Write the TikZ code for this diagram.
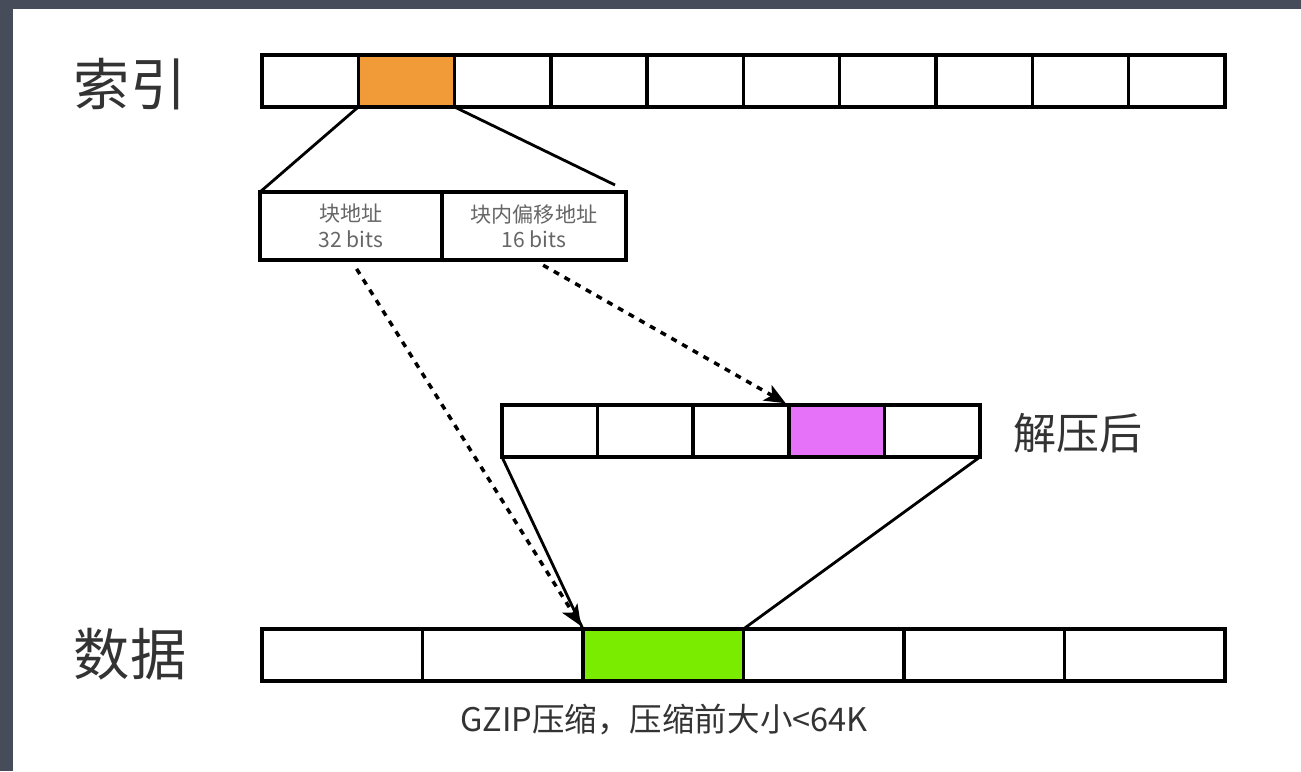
\documentclass[tikz,border=0pt]{standalone}
\usepackage{fontspec}
\setmainfont{Noto Sans CJK SC}
\usepackage{tikz}
\usetikzlibrary{arrows,arrows.meta,positioning}

\definecolor{slatebg}{HTML}{474C5B}
\definecolor{idxorange}{HTML}{F09B38}
\definecolor{unzpink}{HTML}{E672FA}
\definecolor{datagreen}{HTML}{7AEC00}
\definecolor{labelgray}{HTML}{333333}
\definecolor{smallgray}{HTML}{666666}

\begin{document}
\begin{tikzpicture}[x=0.02cm,y=-0.02cm,line width=1.6pt,
		cell/.style={draw,line width=2pt,outer sep=0pt,inner sep=0pt,minimum height=1.04cm},
		icell/.style={cell,minimum width=1.926cm},
		ucell/.style={cell,minimum width=1.912cm},
		dcell/.style={cell,minimum width=3.21cm},
		acell/.style={cell,minimum height=1.36cm,align=center,text=smallgray,
			font=\fontsize{12}{14.5}\selectfont},
		biglabel/.style={text=labelgray,font=\fontsize{32}{36}\selectfont},
		dasharrow/.style={-{Stealth[length=12pt,width=10pt,inset=3pt]},line width=2pt,
			dash pattern=on 3.4pt off 3.6pt,shorten <=6pt,shorten >=2pt}]
		\tikzstyle{midlabel}=[text=labelgray,font=\fontsize{24.5}{28}\selectfont]
		
		% backdrop
		\fill[slatebg] (0,0) rectangle (1301,771);
		\fill[white] (13,9) rectangle (1301,771);
		\useasboundingbox (0,0) rectangle (1301,771);
		
		% index bar
		\node[icell]                  (i1) at (310.15,81) {};
		\node[icell,fill=idxorange,right=0pt of i1] (i2) {};
		\node[icell,right=0pt of i2]  (i3) {};
		\node[icell,right=0pt of i3]  (i4) {};
		\node[icell,right=0pt of i4]  (i5) {};
		\node[icell,right=0pt of i5]  (i6) {};
		\node[icell,right=0pt of i6]  (i7) {};
		\node[icell,right=0pt of i7]  (i8) {};
		\node[icell,right=0pt of i8]  (i9) {};
		\node[icell,right=0pt of i9]  (i10) {};
		\node[biglabel] (idxlabel) at (130,84) {索引};
		
		% address fields
		\node[acell,minimum width=3.64cm] (a1) at (351,226) {块地址\\32 bits};
		\node[acell,minimum width=3.68cm,right=0pt of a1] (a2) {块内偏移地址\\16 bits};
		\coordinate (rtip) at (615,185);
		
		% decompressed block
		\node[ucell]                  (u1) at (549.8,431) {};
		\node[ucell,right=0pt of u1]  (u2) {};
		\node[ucell,right=0pt of u2]  (u3) {};
		\node[ucell,fill=unzpink,right=0pt of u3] (u4) {};
		\node[ucell,right=0pt of u4]  (u5) {};
		\node[midlabel] (unzlabel) at (1078,433) {解压后};
		
		% data bar
		\node[dcell]                  (d1) at (342.25,655) {};
		\node[dcell,right=0pt of d1]  (d2) {};
		\node[dcell,fill=datagreen,right=0pt of d2] (d3) {};
		\node[dcell,right=0pt of d3]  (d4) {};
		\node[dcell,right=0pt of d4]  (d5) {};
		\node[dcell,right=0pt of d5]  (d6) {};
		\node[biglabel] (datlabel) at (130,654) {数据};
		\node[text=labelgray,font=\fontsize{18.5}{22}\selectfont] (note) at (664,719) {GZIP压缩，压缩前大小<64K};
		
		\draw (i2.south west) -- (a1.north west);
		\draw (i2.south east) -- (rtip);
		\draw[dasharrow] (a1.south) -- (d3.north west);
		\draw[dasharrow] (a2.south) -- (u4.north west);
		\draw (u1.south west) -- (d3.north west);
		\draw (u5.south east) -- (d3.north east);
		\end{tikzpicture}
\end{document}
